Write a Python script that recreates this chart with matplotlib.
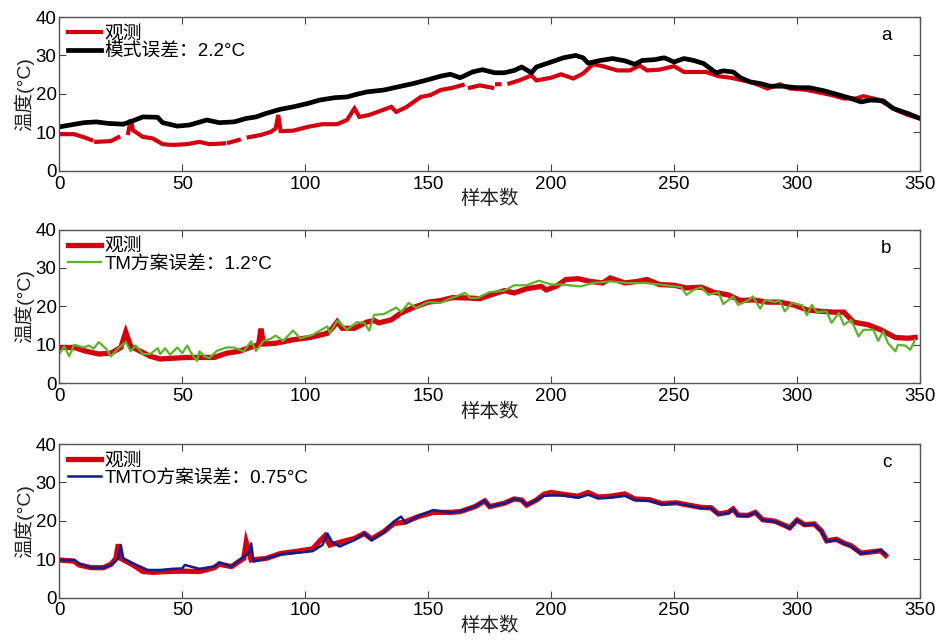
import numpy as np
import matplotlib
matplotlib.use("Agg")
import matplotlib.pyplot as plt

nan = np.nan

# panel a: observation (with gaps) and model
a_obs_x = [0, 6, 10, 13, 14, 15, 21, 24, 26, 28,
           29, 30, 34, 38, 42, 46, 52, 57, 61, 67,
           68, 69, 73, 75, 77, 82, 86, 88, 89, 90,
           95, 101, 107, 113, 117, 120, 122, 126, 132, 135,
           137, 141, 147, 151, 155, 160, 164, 166, 167, 171,
           176, 177, 178, 179, 181, 183, 187, 192, 194, 200,
           204, 209, 213, 217, 221, 227, 232, 236, 239, 244,
           250, 254, 259, 263, 268, 273, 278, 282, 288, 293,
           297, 303, 308, 314, 319, 324, 327, 333, 337, 341,
           345, 350]
a_obs_y = [9.5, 9.5, 8.7, 8.0, nan, 7.5, 7.7, 8.7, nan, 9.8,
           13.3, 10.5, 8.8, 8.4, 6.9, 6.7, 6.9, 7.5, 6.9, 7.1,
           nan, 7.3, 8.0, nan, 8.7, 9.3, 10.1, 11.0, 14.5, 10.3,
           10.4, 11.4, 12.1, 12.1, 13.2, 16.2, 14.0, 14.5, 15.9, 16.6,
           15.3, 16.5, 19.2, 19.7, 21.0, 21.6, 22.3, nan, 21.6, 22.2,
           21.6, nan, 22.5, 22.5, nan, 22.7, 23.5, 24.8, 23.5, 24.2,
           25.1, 24.0, 25.3, 27.7, 27.2, 26.1, 26.1, 27.4, 26.1, 26.3,
           27.2, 25.7, 25.7, 25.7, 24.6, 24.2, 23.5, 22.9, 21.4, 22.5,
           21.4, 21.1, 20.5, 19.7, 18.8, 18.8, 19.4, 18.5, 17.1, 15.6,
           14.5, 13.6]
a_mod_x = [0, 10, 15, 20, 26, 30, 34, 40, 42, 48,
           53, 60, 65, 71, 76, 80, 84, 90, 95, 101,
           106, 112, 117, 121, 125, 132, 139, 144, 150, 155,
           159, 163, 168, 172, 177, 181, 185, 188, 192, 194,
           200, 205, 210, 213, 215, 220, 225, 230, 234, 237,
           242, 246, 250, 254, 258, 262, 267, 270, 274, 277,
           281, 285, 289, 294, 300, 305, 311, 316, 322, 326,
           330, 335, 339, 345, 350]
a_mod_y = [11.4, 12.5, 12.7, 12.3, 12.1, 13.0, 14.0, 13.9, 12.5, 11.6,
           11.9, 13.2, 12.5, 12.7, 13.6, 14.0, 14.9, 16.0, 16.6, 17.5,
           18.4, 19.0, 19.2, 19.9, 20.5, 21.0, 22.0, 22.7, 23.7, 24.6,
           25.1, 24.2, 25.7, 26.3, 25.5, 25.5, 26.1, 27.0, 25.5, 27.0,
           28.3, 29.4, 30.0, 29.4, 28.0, 28.7, 29.2, 28.6, 27.7, 28.7,
           28.9, 29.4, 28.3, 29.2, 28.7, 27.9, 25.5, 26.0, 25.7, 24.2,
           23.1, 22.7, 22.0, 22.0, 21.6, 21.6, 20.8, 19.9, 18.8, 17.9,
           18.4, 18.2, 16.2, 14.9, 13.6]

# panel b: observation and TM scheme
b_obs_x = [0, 6, 11, 16, 21, 25, 27, 29, 33, 37,
           41, 46, 52, 57, 63, 68, 73, 79, 81, 82,
           83, 88, 95, 102, 109, 111, 113, 115, 120, 125,
           128, 130, 135, 139, 144, 150, 155, 160, 166, 171,
           175, 181, 185, 190, 196, 198, 202, 206, 211, 216,
           221, 224, 230, 235, 239, 244, 250, 255, 261, 266,
           272, 277, 282, 288, 293, 299, 304, 310, 315, 319,
           323, 329, 334, 340, 345, 348]
b_obs_y = [9.3, 9.3, 8.3, 7.6, 7.8, 9.3, 13.3, 9.6, 8.3, 7.0,
           6.3, 6.5, 6.7, 6.7, 6.7, 7.8, 8.3, 9.6, 10.0, 14.2,
           10.2, 10.4, 11.3, 11.9, 13.0, 14.3, 16.0, 14.3, 14.3, 15.9,
           16.3, 15.7, 16.5, 18.3, 19.7, 21.1, 21.5, 22.3, 22.2, 22.0,
           22.9, 24.1, 23.5, 24.6, 25.2, 24.3, 25.2, 27.0, 27.2, 26.5,
           26.1, 27.4, 26.1, 26.5, 27.0, 25.7, 25.5, 24.8, 25.0, 23.7,
           23.0, 21.5, 21.7, 21.1, 21.1, 20.3, 19.1, 18.7, 18.5, 18.5,
           15.9, 15.2, 13.9, 11.9, 11.7, 11.9]
b_tm_x = [0, 2, 4, 6, 10, 12, 14, 16, 19, 21,
          24, 27, 29, 31, 34, 37, 40, 41, 43, 45,
          48, 50, 52, 54, 56, 57, 59, 61, 64, 68,
          71, 75, 78, 80, 83, 86, 88, 91, 95, 98,
          103, 109, 110, 113, 117, 121, 124, 126, 128, 132,
          137, 139, 142, 145, 150, 155, 160, 165, 167, 170,
          175, 181, 185, 190, 195, 200, 204, 212, 217, 224,
          231, 238, 244, 253, 255, 258, 261, 264, 268, 270,
          274, 276, 280, 282, 285, 287, 291, 293, 295, 298,
          302, 304, 306, 308, 312, 314, 317, 319, 322, 325,
          327, 331, 333, 335, 337, 340, 341, 344, 346, 348]
b_tm_y = [7.6, 9.6, 7.0, 10.0, 9.3, 9.8, 9.0, 10.7, 9.0, 7.0,
          9.1, 10.7, 8.3, 9.8, 7.6, 7.6, 9.1, 7.6, 9.1, 7.4,
          9.3, 7.8, 9.8, 7.4, 5.8, 8.3, 7.0, 6.5, 8.4, 9.3,
          9.3, 8.3, 10.9, 8.4, 11.0, 11.6, 12.4, 11.0, 13.7, 11.7,
          12.6, 14.8, 13.0, 16.3, 13.9, 15.9, 15.7, 13.7, 17.8, 18.0,
          19.7, 18.5, 20.9, 19.6, 21.1, 20.9, 22.3, 23.5, 22.2, 22.2,
          23.7, 24.1, 25.5, 25.5, 26.7, 25.7, 25.7, 25.2, 26.1, 26.5,
          26.1, 26.1, 25.7, 25.0, 23.0, 24.3, 25.0, 23.0, 23.7, 20.6,
          22.6, 20.4, 21.5, 22.6, 19.4, 21.7, 21.1, 21.5, 18.7, 20.9,
          20.3, 17.7, 20.4, 18.5, 18.7, 15.7, 18.3, 15.2, 16.5, 12.2,
          13.9, 13.9, 11.0, 13.5, 10.4, 8.3, 10.0, 9.8, 8.7, 11.3]

# panel c: observation and TMTO scheme
c_obs_x = [0, 6, 8, 13, 18, 21, 23, 24, 25, 30,
           34, 38, 44, 50, 57, 63, 65, 70, 75, 76,
           78, 84, 90, 97, 103, 106, 108, 110, 114, 120,
           124, 127, 132, 136, 140, 146, 152, 159, 163, 169,
           173, 175, 181, 185, 188, 190, 194, 197, 200, 205,
           211, 215, 219, 224, 230, 234, 240, 245, 251, 255,
           261, 265, 268, 272, 274, 276, 280, 283, 286, 291,
           295, 297, 300, 303, 307, 310, 312, 316, 319, 322,
           326, 330, 334, 336]
c_obs_y = [9.8, 9.5, 8.5, 7.8, 7.8, 8.7, 10.2, 13.9, 10.2, 8.5,
           6.8, 6.6, 6.8, 6.9, 6.8, 7.8, 8.7, 8.1, 10.2, 14.4,
           9.8, 10.2, 11.5, 12.1, 12.7, 14.8, 16.1, 13.7, 14.4, 15.4,
           16.7, 15.3, 17.2, 19.3, 19.6, 21.1, 22.2, 22.2, 22.4, 23.7,
           25.2, 23.7, 24.6, 25.7, 25.4, 24.1, 25.4, 26.9, 27.4, 26.9,
           26.4, 27.4, 26.2, 26.4, 27.0, 25.7, 25.5, 24.5, 24.7, 24.2,
           23.5, 23.4, 21.8, 22.2, 23.1, 21.5, 21.4, 22.2, 20.3, 19.9,
           18.8, 18.2, 20.2, 19.0, 19.2, 17.3, 14.8, 15.2, 14.2, 13.5,
           11.6, 11.9, 12.2, 11.0]
c_tm_x = [0, 6, 8, 13, 18, 21, 23, 24, 25, 26,
          30, 36, 41, 46, 50, 51, 57, 63, 65, 70,
          75, 77, 78, 79, 84, 90, 97, 103, 107, 109,
          111, 114, 120, 124, 127, 132, 136, 139, 141, 146,
          152, 159, 163, 169, 173, 175, 181, 185, 188, 190,
          194, 197, 200, 205, 211, 215, 219, 224, 230, 234,
          240, 245, 251, 255, 261, 265, 268, 272, 274, 276,
          280, 283, 286, 291, 295, 297, 300, 303, 307, 310,
          312, 316, 319, 322, 326, 330, 334, 336]
c_tm_y = [9.8, 9.8, 8.9, 7.8, 7.8, 8.5, 9.5, 10.4, 13.7, 10.2,
          8.9, 7.2, 7.2, 7.5, 7.6, 8.5, 7.5, 8.1, 9.2, 8.1,
          10.7, 11.5, 14.1, 9.4, 10.2, 11.3, 11.7, 12.1, 13.7, 16.7,
          14.4, 13.3, 15.0, 16.7, 15.0, 17.0, 19.8, 21.1, 19.3, 21.3,
          22.8, 22.2, 22.4, 23.7, 25.2, 23.7, 24.6, 25.7, 25.4, 24.1,
          25.4, 26.5, 26.6, 26.6, 26.0, 26.8, 25.9, 26.0, 26.5, 25.4,
          25.2, 24.3, 24.6, 24.1, 23.3, 23.3, 21.7, 22.0, 23.1, 21.3,
          21.3, 22.2, 20.2, 19.8, 18.7, 18.0, 20.2, 18.9, 19.1, 17.2,
          14.6, 15.0, 14.1, 13.3, 11.5, 11.8, 12.4, 11.3]

panels = [
    ("a", a_obs_x, a_obs_y, a_mod_x, a_mod_y, "模式误差：2.2°C", "black", 3.4),
    ("b", b_obs_x, b_obs_y, b_tm_x, b_tm_y, "TM方案误差：1.2°C", "#5cb325", 1.6),
    ("c", c_obs_x, c_obs_y, c_tm_x, c_tm_y, "TMTO方案误差：0.75°C", "#0d1f8c", 1.8),
]

plt.rcParams['font.family'] = ['Liberation Sans', 'Noto Sans CJK SC', 'DejaVu Sans']
plt.rcParams['axes.linewidth'] = 1.0

red = "#d4000f"
fig = plt.figure(figsize=(9.39, 6.44), dpi=100)
bottoms = [0.735, 0.405, 0.072]

for (tag, ox, oy, mx, my, lab, col, lw), b in zip(panels, bottoms):
    ax = fig.add_axes([0.0632, b, 0.9166, 0.2385])
    red_lw = 3.0 if tag == "a" else 3.8
    ax.plot(ox, oy, color=red, lw=red_lw, label="观测", solid_joinstyle="miter")
    ax.plot(mx, my, color=col, lw=lw, label=lab)
    ax.set_xlim(0, 350)
    ax.set_ylim(0, 40)
    ax.set_xticks(range(0, 351, 50))
    ax.set_yticks(range(0, 41, 10))
    ax.tick_params(direction="in", top=True, right=True, length=5,
                   labelsize=13.5, color="#444444", pad=2)
    ax.tick_params(axis="x", pad=3.5)
    for s in ax.spines.values():
        s.set_color("#555555")
    ax.set_xlabel("样本数", fontsize=14, labelpad=-2, color="#222222")
    ax.set_ylabel("温度(°C)", fontsize=14, labelpad=1, color="#222222")
    ax.text(0.961, 0.88, tag, transform=ax.transAxes, fontsize=13.5,
            ha="center", va="center")
    ax.legend(loc="upper left", frameon=False, fontsize=13.5,
              handlelength=1.75, handletextpad=0.2, labelspacing=0.0,
              borderaxespad=0.2, borderpad=0.25)

fig.savefig("out.png", dpi=100)
